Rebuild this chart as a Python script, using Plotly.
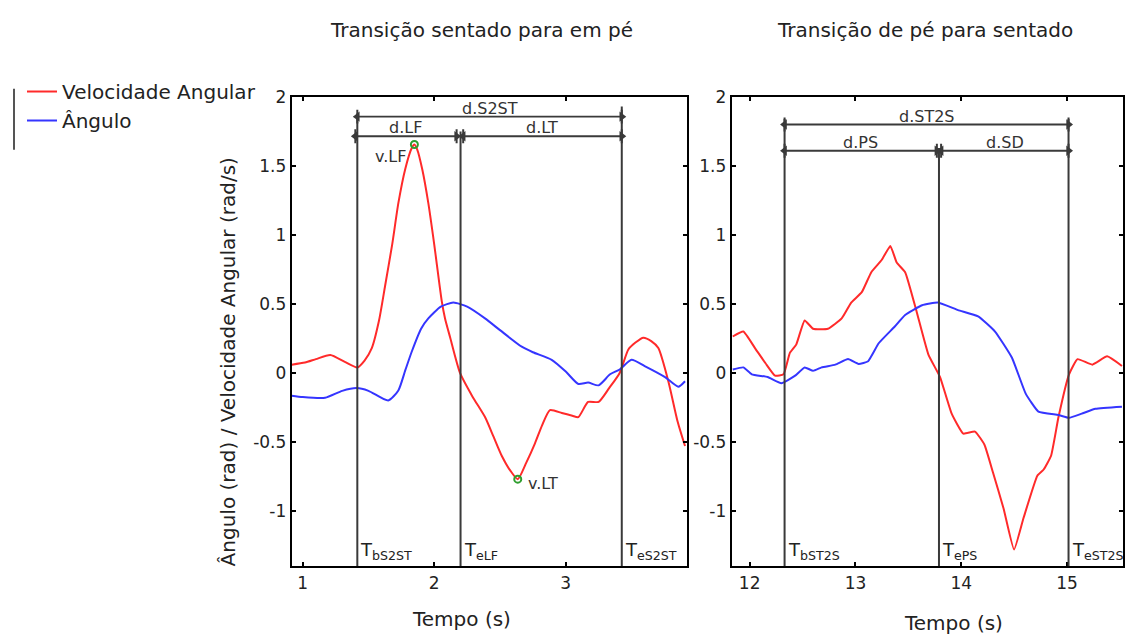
import plotly.graph_objects as go

# ---------------- data ----------------
# Left panel: sit-to-stand
t_vel_s2st = [0.916, 1.017, 1.1, 1.21, 1.32, 1.415, 1.47, 1.525, 1.58, 1.626, 1.68, 1.727, 1.78, 1.829, 1.849,
              1.87, 1.91, 1.955, 2.0, 2.057, 2.082, 2.12, 2.196, 2.29, 2.386, 2.45, 2.513, 2.58, 2.635, 2.7,
              2.766, 2.82, 2.88, 2.97, 3.05, 3.096, 3.17, 3.25, 3.33, 3.41, 3.476, 3.53, 3.59, 3.65, 3.704,
              3.78, 3.85, 3.907]
vel_s2st = [0.06, 0.075, 0.10, 0.13, 0.08, 0.04, 0.09, 0.18, 0.38, 0.63, 0.93, 1.23, 1.48, 1.63, 1.655,
            1.62, 1.47, 1.23, 0.93, 0.52, 0.395, 0.26, 0.0, -0.17, -0.32, -0.46, -0.60, -0.71, -0.77, -0.65,
            -0.51, -0.38, -0.27, -0.29, -0.31, -0.32, -0.21, -0.21, -0.11, 0.0, 0.17, 0.22, 0.255, 0.23, 0.18,
            -0.06, -0.35, -0.53]
t_ang_s2st = [0.916, 1.0, 1.17, 1.3, 1.41, 1.5, 1.65, 1.727, 1.78, 1.83, 1.9, 1.955, 2.05, 2.145, 2.25, 2.386,
              2.5, 2.665, 2.75, 2.893, 3.0, 3.096, 3.17, 3.25, 3.337, 3.41, 3.5, 3.6, 3.755, 3.856, 3.907]
ang_s2st = [-0.165, -0.175, -0.18, -0.13, -0.11, -0.13, -0.20, -0.127, 0.02, 0.157, 0.32, 0.395, 0.48, 0.51,
            0.48, 0.395, 0.31, 0.19, 0.15, 0.095, 0.01, -0.08, -0.07, -0.09, -0.01, 0.025, 0.095, 0.05, -0.03,
            -0.10, -0.06]

# Right panel: stand-to-sit
t_vel_st2s = [11.84, 11.94, 12.05, 12.15, 12.24, 12.32, 12.38, 12.44, 12.52, 12.60, 12.74, 12.87, 12.96, 13.06,
              13.15, 13.25, 13.33, 13.39, 13.47, 13.58, 13.69, 13.80, 13.91, 14.02, 14.13, 14.22, 14.30, 14.40,
              14.50, 14.59, 14.72, 14.78, 14.85, 14.92, 15.02, 15.10, 15.24, 15.38, 15.52]
vel_st2s = [0.264, 0.30, 0.18, 0.07, -0.02, -0.01, 0.145, 0.205, 0.38, 0.32, 0.32, 0.395, 0.51, 0.585,
            0.73, 0.82, 0.92, 0.80, 0.73, 0.44, 0.133, -0.03, -0.295, -0.44, -0.425, -0.52, -0.72, -0.98,
            -1.28, -1.05, -0.745, -0.70, -0.60, -0.32, -0.01, 0.10, 0.06, 0.12, 0.05]
t_ang_st2s = [11.84, 11.94, 12.02, 12.17, 12.30, 12.43, 12.52, 12.60, 12.68, 12.81, 12.93, 13.03, 13.12, 13.22,
              13.37, 13.47, 13.63, 13.78, 13.97, 14.16, 14.32, 14.48, 14.61, 14.73, 14.92, 15.02, 15.14, 15.27,
              15.52]
ang_st2s = [0.025, 0.04, -0.01, -0.03, -0.075, -0.02, 0.04, 0.015, 0.04, 0.06, 0.10, 0.065, 0.085, 0.215,
            0.335, 0.42, 0.49, 0.51, 0.455, 0.41, 0.30, 0.11, -0.15, -0.28, -0.305, -0.325, -0.295, -0.26,
            -0.245]

# Event times and labels
events_s2st = [1.415, 2.20, 3.426]
event_labels_s2st = ["T<sub>bS2ST</sub>", "T<sub>eLF</sub>", "T<sub>eS2ST</sub>"]
event_tops_s2st = [1.88, 1.75, 1.93]
events_st2s = [12.33, 13.79, 15.015]
event_labels_st2s = ["T<sub>bST2S</sub>", "T<sub>ePS</sub>", "T<sub>eST2S</sub>"]
event_tops_st2s = [1.84, 1.63, 1.84]

# Duration brackets
span_start_s2st = [1.415, 1.40, 2.22]
span_end_s2st = [3.426, 2.17, 3.426]
span_level_s2st = [1.857, 1.715, 1.715]
span_labels_s2st = ["d.S2ST", "d.LF", "d.LT"]
span_start_st2s = [12.33, 12.33, 13.81]
span_end_st2s = [15.015, 13.77, 15.015]
span_level_st2s = [1.80, 1.61, 1.61]
span_labels_st2s = ["d.ST2S", "d.PS", "d.SD"]

# Marked velocity extrema
peak_t = [1.849, 2.635]
peak_v = [1.655, -0.77]
peak_labels = ["v.LF", "v.LT"]

y_ticks = [-1, -0.5, 0, 0.5, 1, 1.5, 2]
y_tick_text = ["-1", "-0.5", "0", "0.5", "1", "1.5", "2"]
x_ticks_left = [1, 2, 3]
x_ticks_right = [12, 13, 14, 15]

# ---------------- figure ----------------
RED = "#ff2a2a"
BLUE = "#3535ff"
GRAY = "#3a3a3a"
TXT = "#222222"
FONT = "DejaVu Sans"

fig = go.Figure()
fig.add_trace(go.Scatter(x=t_vel_s2st, y=vel_s2st, mode="lines", name="Velocidade Angular",
                         line=dict(color=RED, width=2, shape="spline", smoothing=0.6), xaxis="x", yaxis="y"))
fig.add_trace(go.Scatter(x=t_ang_s2st, y=ang_s2st, mode="lines", name="Ângulo",
                         line=dict(color=BLUE, width=2, shape="spline", smoothing=0.6), xaxis="x", yaxis="y"))
fig.add_trace(go.Scatter(x=t_vel_st2s, y=vel_st2s, mode="lines", name="Velocidade Angular", showlegend=False,
                         line=dict(color=RED, width=2, shape="spline", smoothing=0.4), xaxis="x2", yaxis="y2"))
fig.add_trace(go.Scatter(x=t_ang_st2s, y=ang_st2s, mode="lines", name="Ângulo", showlegend=False,
                         line=dict(color=BLUE, width=2, shape="spline", smoothing=0.4), xaxis="x2", yaxis="y2"))
fig.add_trace(go.Scatter(x=peak_t, y=peak_v, mode="markers", showlegend=False,
                         marker=dict(symbol="circle-open", size=7, color="#2e9e2e", line=dict(width=2)),
                         xaxis="x", yaxis="y"))

shapes = []
annotations = []


def add_events(xref, yref, times, tops, labels):
    for t, top, lab in zip(times, tops, labels):
        shapes.append(dict(type="line", xref=xref, yref=yref, x0=t, x1=t, y0=-1.4, y1=top,
                           line=dict(color=GRAY, width=2)))
        annotations.append(dict(xref=xref, yref=yref, x=t, y=-1.29, text=lab, showarrow=False,
                                xanchor="left", yanchor="middle", xshift=1,
                                font=dict(family=FONT, size=18, color=TXT)))


def add_spans(xa, ya, starts, ends, levels, labels):
    for a, b, h, lab in zip(starts, ends, levels, labels):
        fig.add_trace(go.Scatter(x=[a, b], y=[h, h], mode="lines+markers", showlegend=False, hoverinfo="skip",
                                 line=dict(color=GRAY, width=1.8),
                                 marker=dict(symbol=["triangle-left", "triangle-right"], size=9, color=GRAY,
                                             line=dict(width=0)),
                                 xaxis=xa, yaxis=ya))
        for t in (a, b):
            shapes.append(dict(type="line", xref=xa, yref=ya, x0=t, x1=t, y0=h - 0.05, y1=h + 0.05,
                               line=dict(color=GRAY, width=2)))
        annotations.append(dict(xref=xa, yref=ya, x=(a + b) / 2, y=h, text=lab, showarrow=False,
                                xanchor="center", yanchor="bottom", yshift=-3,
                                font=dict(family=FONT, size=16, color="#333333")))


add_events("x", "y", events_s2st, event_tops_s2st, event_labels_s2st)
add_events("x2", "y2", events_st2s, event_tops_st2s, event_labels_st2s)
add_spans("x", "y", span_start_s2st, span_end_s2st, span_level_s2st, span_labels_s2st)
add_spans("x2", "y2", span_start_st2s, span_end_st2s, span_level_st2s, span_labels_st2s)

annotations.append(dict(xref="x", yref="y", x=peak_t[0], y=peak_v[0], text=peak_labels[0], showarrow=False,
                        xanchor="right", yanchor="middle", xshift=-6, yshift=-12,
                        font=dict(family=FONT, size=16, color="#333333")))
annotations.append(dict(xref="x", yref="y", x=peak_t[1], y=peak_v[1], text=peak_labels[1], showarrow=False,
                        xanchor="left", yanchor="middle", xshift=8, yshift=-4,
                        font=dict(family=FONT, size=16, color="#333333")))

# titles and axis titles
annotations += [
    dict(xref="paper", yref="paper", x=481 / 1125, y=1 - 20 / 637, text="Transição sentado para em pé",
         xanchor="center", yanchor="middle", showarrow=False, font=dict(family=FONT, size=20, color=TXT)),
    dict(xref="paper", yref="paper", x=925 / 1125, y=1 - 20 / 637, text="Transição de pé para sentado",
         xanchor="center", yanchor="middle", showarrow=False, font=dict(family=FONT, size=20, color=TXT)),
    dict(xref="paper", yref="paper", x=461 / 1125, y=1 - 619 / 637, text="Tempo (s)",
         xanchor="center", yanchor="middle", showarrow=False, font=dict(family=FONT, size=20, color=TXT)),
    dict(xref="paper", yref="paper", x=953 / 1125, y=1 - 623 / 637, text="Tempo (s)",
         xanchor="center", yanchor="middle", showarrow=False, font=dict(family=FONT, size=20, color=TXT)),
    dict(xref="paper", yref="paper", x=228 / 1125, y=1 - 358 / 637,
         text="Ângulo (rad) / Velocidade Angular (rad/s)", xanchor="center", yanchor="middle",
         showarrow=False, textangle=-90, font=dict(family=FONT, size=20, color=TXT)),
]

# legend left bar
shapes.append(dict(type="line", xref="paper", yref="paper", x0=14 / 1125, x1=14 / 1125,
                   y0=1 - 142 / 637, y1=1 - 80 / 637, line=dict(color="#555555", width=2)))

axis_common = dict(showgrid=False, zeroline=False, showline=True, linecolor="black", linewidth=2,
                   mirror="ticks", ticks="inside", ticklen=4, tickwidth=1.5, tickcolor="black",
                   tickfont=dict(family=FONT, size=17, color=TXT))

fig.update_layout(
    width=1125, height=637,
    margin=dict(l=0, r=0, t=0, b=0),
    paper_bgcolor="white", plot_bgcolor="white",
    xaxis=dict(domain=[291.7 / 1125, 687 / 1125], range=[0.916, 3.922], tickvals=x_ticks_left,
               anchor="y", **axis_common),
    yaxis=dict(domain=[72 / 637, 548.7 / 637], range=[-1.4, 2], tickvals=y_ticks, ticktext=y_tick_text,
               anchor="x", **axis_common),
    xaxis2=dict(domain=[731.7 / 1125, 1123 / 1125], range=[11.83, 15.53], tickvals=x_ticks_right,
                anchor="y2", **axis_common),
    yaxis2=dict(domain=[72 / 637, 548.7 / 637], range=[-1.4, 2], tickvals=y_ticks, ticktext=y_tick_text,
                anchor="x2", **axis_common),
    shapes=shapes, annotations=annotations,
    showlegend=True,
    legend=dict(x=22 / 1125, y=1 - 63 / 637, xanchor="left", yanchor="top", bgcolor="rgba(0,0,0,0)",
                font=dict(family=FONT, size=20, color=TXT), tracegroupgap=0),
)

fig.write_html("out.html")
